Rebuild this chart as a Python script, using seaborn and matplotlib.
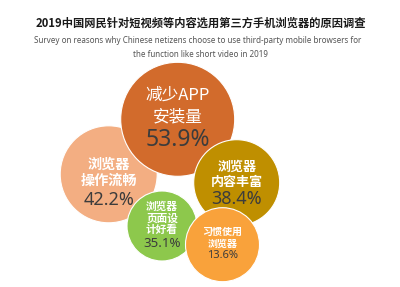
import matplotlib
matplotlib.use("Agg")
import matplotlib.pyplot as plt
import seaborn as sns
import pandas as pd

# ---- data ----
categories = ["减少APP\n安装量", "浏览器\n操作流畅", "浏览器\n内容丰富", "浏览器\n页面设\n计好看", "习惯使用\n浏览器"]
values = [53.9, 42.2, 38.4, 35.1, 13.6]
title = "2019中国网民针对短视频等内容选用第三方手机浏览器的原因调查"
subtitle = ("Survey on reasons why Chinese netizens choose to use third-party mobile browsers for\n"
            "the function like short video in 2019")

# ---- layout (pixel coords) ----
cx = [177.7, 108.7, 236.7, 162.0, 222.5]
cy = [119.3, 174.3, 182.7, 226.0, 244.7]
radius = [57, 48.5, 43, 35, 37]
colors = ["#D26B2C", "#F3AE82", "#BF8F00", "#8DC84C", "#F9A23B"]
draw_order = [1, 0, 2, 3, 4]
label_y0 = [95, 165, 166.7, 206.7, 231.7]
label_step = [21.7, 15.7, 15.0, 11.7, 11.7]
label_size = [12, 10.2, 9.4, 7.7, 7.2]
label_bold = [False, True, True, True, True]
value_y = [140, 200, 198.8, 243.3, 255]
value_size = [16.5, 13, 13, 9.5, 8]

sns.set_theme(style="white")
plt.rcParams["font.family"] = ["Noto Sans CJK SC", "DejaVu Sans"]

fig = plt.figure(figsize=(4, 2.87), dpi=100)
ax = fig.add_axes([0, 0, 1, 1])

dpi = 100
df = pd.DataFrame({
    "cat": [categories[i] for i in draw_order],
    "x": [cx[i] for i in draw_order],
    "y": [cy[i] for i in draw_order],
})
pal = {categories[i]: colors[i] for i in draw_order}
sizes = {categories[i]: (2 * radius[i] * 72 / dpi) ** 2 for i in draw_order}
sns.scatterplot(data=df, x="x", y="y", hue="cat", size="cat", palette=pal, sizes=sizes,
                edgecolor="white", linewidth=0.8, legend=False, ax=ax, alpha=1)

ax.set_xlim(0, 400)
ax.set_ylim(287, 0)
ax.axis("off")

for i, cat in enumerate(categories):
    for j, line in enumerate(cat.split("\n")):
        ax.text(cx[i], label_y0[i] + j * label_step[i], line, ha="center", va="center",
                color="white", fontsize=label_size[i],
                fontweight="bold" if label_bold[i] else "normal")
    ax.text(cx[i], value_y[i], f"{values[i]}%", ha="center", va="center",
            color="#3C3C3C", fontsize=value_size[i], family=["Noto Sans", "DejaVu Sans"])

ax.text(201, 23, title, ha="center", va="center", fontsize=8.1, fontweight="bold", color="#1a1a1a")
lines = subtitle.split("\n")
ax.text(198, 40.7, lines[0], ha="center", va="center", fontsize=5.8, color="#555555",
        family=["Noto Sans", "DejaVu Sans"])
ax.text(200, 54.3, lines[1], ha="center", va="center", fontsize=5.8, color="#555555",
        family=["Noto Sans", "DejaVu Sans"])

fig.savefig("out.png", dpi=dpi, facecolor="white")
